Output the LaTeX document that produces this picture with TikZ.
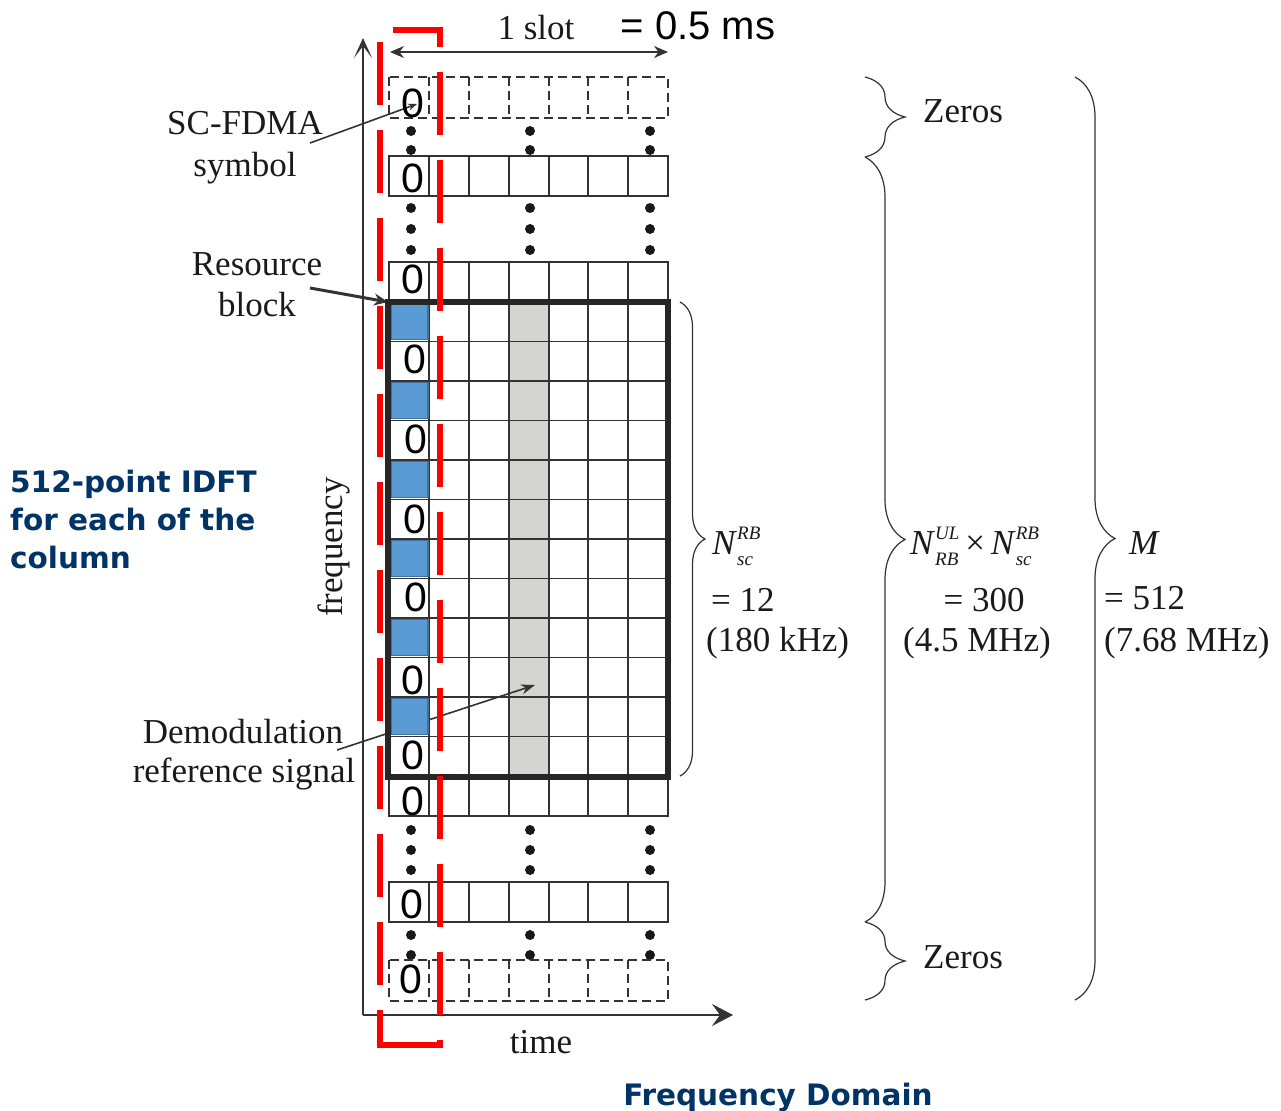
\documentclass[tikz,border=0pt]{standalone}
\usepackage{fontspec}
\setmainfont{Liberation Serif}
\newfontfamily\sansf{Liberation Sans}
\newfontfamily\navyf{DejaVu Sans}
\usetikzlibrary{arrows.meta,decorations.pathreplacing}
\definecolor{gridc}{HTML}{333333}
\definecolor{rbblue}{HTML}{5B9BD5}
\definecolor{rbborder}{HTML}{41719C}
\definecolor{dmrs}{HTML}{D4D4D0}
\definecolor{navy}{HTML}{003366}
\definecolor{redbox}{HTML}{FF0000}
\definecolor{txt}{HTML}{1A1A1A}
\newcommand\serifsz{\fontsize{35}{40}\selectfont}
\newcommand\scrsz{\fontsize{19}{19}\selectfont}
\newcommand\supsub[2]{\setbox0\hbox{\scrsz\itshape#1}\setbox2\hbox{\scrsz\itshape#2}%
  \ifdim\wd0>\wd2 \dimen0=\wd0 \else \dimen0=\wd2 \fi
  \makebox[\dimen0][l]{\rlap{\raisebox{15pt}{\box0}}\raisebox{-11pt}{\box2}}}
\begin{document}
\begin{tikzpicture}[x=1pt,y=-1pt,
  gridline/.style={draw=gridc,line width=1.4pt},
  dashrow/.style={draw=gridc,line width=1.3pt,dash pattern=on 9pt off 5pt},
  zero/.style={font=\sansf\fontsize{41}{41}\selectfont,inner sep=0pt},
  lbl/.style={font=\serifsz,text=txt,inner sep=0pt},
  navytxt/.style={font=\navyf\bfseries\fontsize{29.5}{37.5}\selectfont,text=navy,inner sep=0pt,anchor=base west},
  brc/.style={draw=gridc,line width=1.2pt,decorate,decoration={brace,amplitude=#1}},
  redline/.style={draw=redbox,line width=6pt},
  reddash/.style={draw=redbox,line width=6pt,dash pattern=on 63pt off 25pt},
  blue/.style={fill=rbblue,draw=rbborder,line width=1.5pt}]
\useasboundingbox (0,0) rectangle (1281,1110);
\fill[white] (0,0) rectangle (1281,1110);

% coordinates
\coordinate (origin) at (363,1015);
\coordinate (yend) at (363,38);
\coordinate (xend) at (733,1015);
\coordinate (slotL) at (390,52);
\coordinate (slotR) at (668,52);

% axes
\draw[gridc,line width=1.8pt,-{Stealth[length=20pt,width=18pt,inset=12pt]}] (origin) -- (yend);
\draw[gridc,line width=1.8pt,-{Stealth[length=21pt,width=22pt,inset=8pt]}] (origin) -- (xend);
\draw[gridc,line width=1.5pt,{Stealth[length=14pt,width=12pt]}-{Stealth[length=14pt,width=12pt]}] (slotL) -- (slotR);

% dots
\foreach \x in {411,530,650}
  \foreach \y in {131,150,208,229,250,830,850,870,935,955}
    \fill[black!90] (\x,\y) circle (5pt);

% DMRS column
\fill[dmrs] (509,302) rectangle (549,776);

% solid rows
\foreach \t in {156,262,776,882}{
  \draw[gridline,fill=white] (389,\t) rectangle (668,\t+40);
  \foreach \c in {429,469,509,549,588,628} \draw[gridline] (\c,\t) -- (\c,\t+40);
}
% dashed rows
\foreach \t in {77,960}{
  \draw[dashrow,fill=white] (389,\t) rectangle (668,\t+41);
  \foreach \c in {429,469,509,549,588,628} \draw[dashrow] (\c,\t) -- (\c,\t+41);
}
% RB grid
\foreach \k in {1,...,11} \draw[gridline] (389,302+39.5*\k) -- (668,302+39.5*\k);
\foreach \c in {429,469,509,549,588,628} \draw[gridline] (\c,302) -- (\c,776);

% pointer lines
\coordinate (dmA) at (337,750);
\coordinate (dmB) at (535,685);
\draw[gridc,line width=1.6pt,-{Stealth[length=14pt,width=10pt]}] (dmA) -- (dmB);
\coordinate (scA) at (310,143);
\coordinate (scB) at (417,104);
\draw[gridc,line width=1.6pt,-{Stealth[length=9pt,width=7pt]}] (scA) -- (scB);
\coordinate (rbA) at (310,288);
\coordinate (rbB) at (388,302);
\draw[gridc,line width=3pt,-{Stealth[length=14pt,width=12pt]}] (rbA) -- (rbB);

% blue DMRS cells
\foreach \k in {0,2,4,6,8,10}
  \draw[blue] (391,303.5+39.5*\k) rectangle (428,339.5+39.5*\k);

% resource block border
\draw[line width=6pt,draw=black!85] (388,302) rectangle (668,776.5);

% zeros
\node[zero] (z1) at (413,103) {0};
\node[zero] (z2) at (413,178) {0};
\node[zero] (z3) at (413,279) {0};
\node[zero] (z4) at (415,359) {0};
\node[zero] (z5) at (416,439) {0};
\node[zero] (z6) at (415,519) {0};
\node[zero] (z7) at (416,597) {0};
\node[zero] (z8) at (413,680) {0};
\node[zero] (z9) at (413,755) {0};
\node[zero] (z10) at (413,801) {0};
\node[zero] (z11) at (412,904) {0};
\node[zero] (z12) at (411,979) {0};

% red dashed frame
\draw[redline] (393,30) -- (440,30) -- (440,47);
\draw[reddash] (440,72) -- (440,1045);
\draw[reddash] (380,42) -- (380,1045);
\draw[redline] (377,1045) -- (443,1045);

% braces
\coordinate (b1t) at (680,302); \coordinate (b1b) at (680,776);
\coordinate (b2t) at (865,77);  \coordinate (b2b) at (865,157);
\coordinate (b3b) at (865,922);
\coordinate (b4b) at (865,1000);
\coordinate (b5t) at (1075,77); \coordinate (b5b) at (1075,1000);
\draw[brc=25pt] (b1t) -- (b1b);
\draw[brc=40pt] (b2t) -- (b2b);
\draw[brc=40pt] (b2b) -- (b3b);
\draw[brc=40pt] (b3b) -- (b4b);
\draw[brc=40pt] (b5t) -- (b5b);

% labels
\node[lbl,anchor=base] (slot) at (536,40) {1 slot};
\node[font=\sansf\fontsize{40}{40}\selectfont,inner sep=0pt,anchor=base] (ms) at (698,40) {= 0.5 ms};
\node[lbl,anchor=base] (sc1) at (245,135) {SC-FDMA};
\node[lbl,anchor=base] (sc2) at (245,176) {symbol};
\node[lbl,anchor=base] (rb1) at (257,275) {Resource};
\node[lbl,anchor=base] (rb2) at (257,316) {block};
\node[lbl,anchor=base] (dm1) at (243,743) {Demodulation};
\node[lbl,anchor=base] (dm2) at (244,782) {reference signal};
\node[lbl,rotate=90] (freq) at (334,547) {frequency};
\node[lbl,anchor=base] (time) at (541,1053) {time};
\node[lbl,anchor=base west] (zt) at (923,123) {Zeros};
\node[lbl,anchor=base west] (zb) at (923,968) {Zeros};

\node[lbl,anchor=base west] (n1) at (712,554) {\textit{N}\supsub{RB}{sc}};
\node[lbl,anchor=base west] (n1b) at (711,611) {= 12};
\node[lbl,anchor=base west] (n1c) at (706,651) {(180 kHz)};

\node[lbl,anchor=base west] (n2) at (910,554) {\textit{N}\supsub{UL}{RB}\,×\,\textit{N}\supsub{RB}{sc}};
\node[lbl,anchor=base] (n2b) at (984,611) {= 300};
\node[lbl,anchor=base] (n2c) at (977,651) {(4.5 MHz)};

\node[lbl,anchor=base west] (n3) at (1129,554) {\textit{M}};
\node[lbl,anchor=base west] (n3b) at (1104,609) {= 512};
\node[lbl,anchor=base west] (n3c) at (1104,651) {(7.68 MHz)};

\node[navytxt] (id1) at (10,492) {512-point IDFT};
\node[navytxt] (id2) at (10,530) {for each of the};
\node[navytxt] (id3) at (10,568) {column};
\node[navytxt,anchor=base] (fd) at (778,1105) {Frequency Domain};
\end{tikzpicture}
\end{document}
